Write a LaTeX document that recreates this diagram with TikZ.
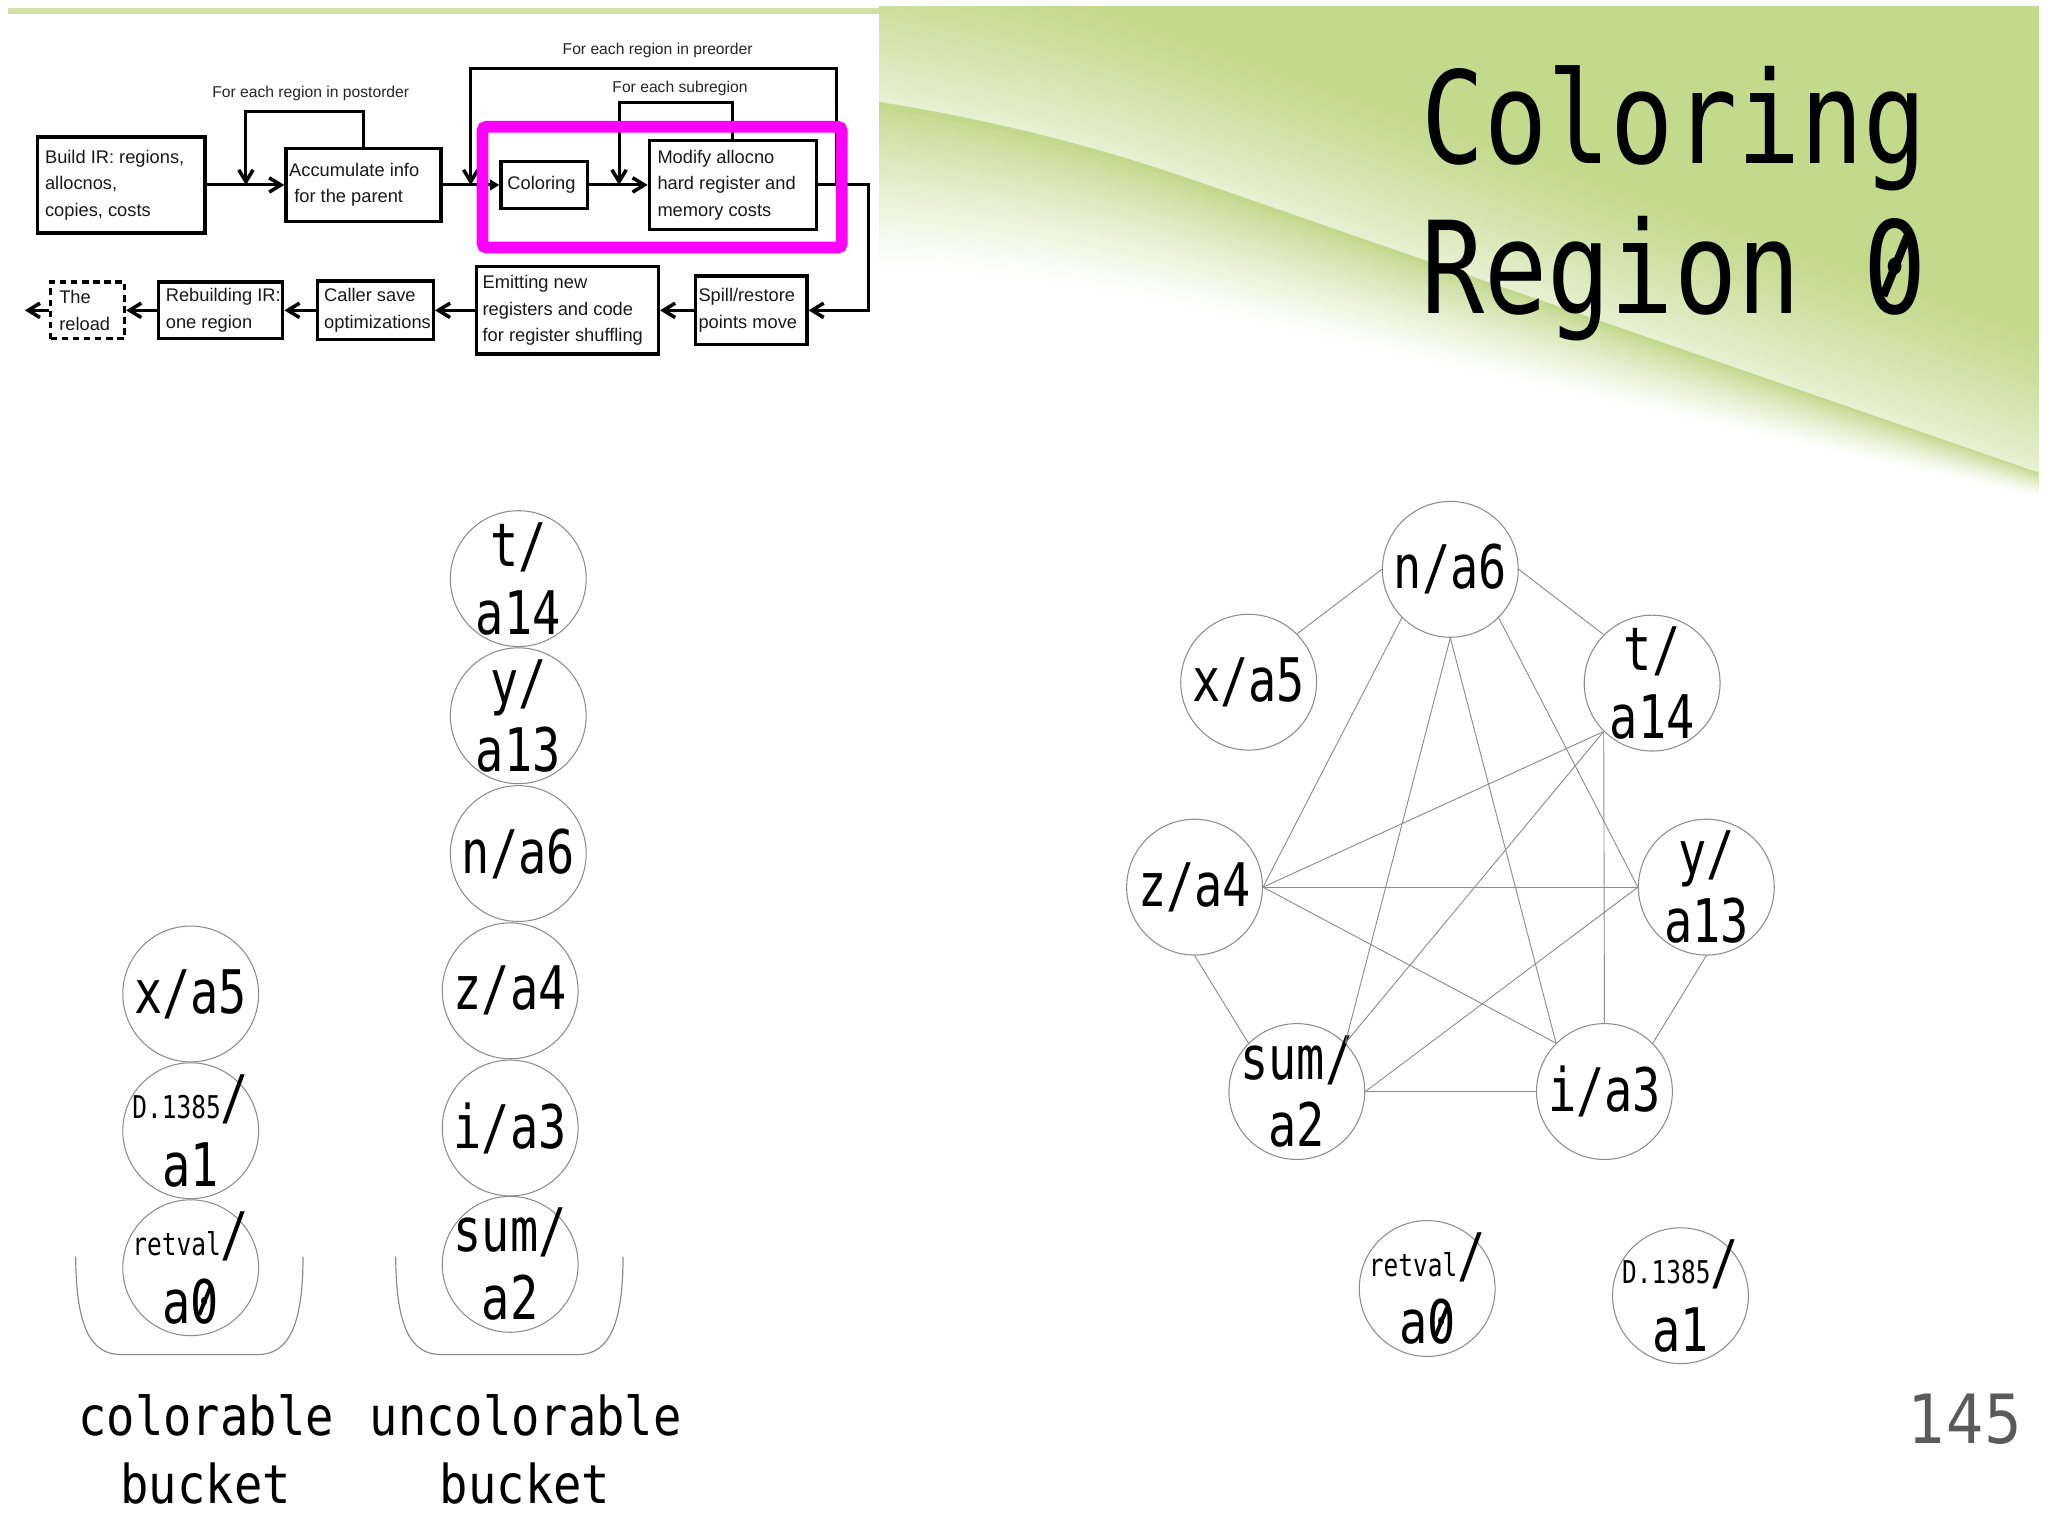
\documentclass[tikz,border=0pt]{standalone}
\usepackage{fontspec}
\usetikzlibrary{arrows.meta}
\newfontfamily\titlefont[FakeStretch=0.82]{DejaVu Sans Mono}
\newfontfamily\gnodefont[FakeStretch=0.78]{DejaVu Sans Mono}
\newfontfamily\bucketfont[FakeStretch=0.88]{DejaVu Sans Mono}
\newfontfamily\pagenofont[FakeStretch=0.87]{DejaVu Sans}
\newfontfamily\flowfont{Liberation Sans}
\definecolor{bggreen}{HTML}{C3D98B}
\definecolor{bandgreen}{HTML}{BFD685}
\definecolor{toplinegreen}{HTML}{D3E1A8}
\definecolor{edgegray}{HTML}{8C8C8C}
\definecolor{hilite}{HTML}{FF00FF}
\definecolor{pagegray}{HTML}{5A5A5A}
\newcommand\smalltag[1]{{\fontsize{24}{28}\selectfont #1}}
\newcommand\szero{\leavevmode\setbox0=\hbox{0}\rlap{0}\hbox to \wd0{\hss\raisebox{0.15em}{\rotatebox{-22}{\rule{0.065em}{0.5em}}}\hss}}
\begin{document}
\begin{tikzpicture}[x=1pt,y=-1pt,
  flowbox/.style={draw=black, line width=2.5pt, inner sep=0pt},
  flowtext/.style={font=\flowfont\fontsize{14}{20.3}\selectfont, align=left, inner sep=0pt, anchor=west, text=black!90},
  flowlabel/.style={font=\flowfont\fontsize{12}{14}\selectfont, inner sep=0pt, anchor=base, text=black!85},
  flowline/.style={line width=2.3pt},
  flowarrow/.style={line width=2.3pt, -{Straight Barb[length=9pt,width=11pt,line width=2.7pt]}},
  gnode/.style={circle, draw=edgegray, line width=0.8pt, minimum size=104pt, inner sep=0pt},
  gtext/.style={inner sep=0pt, align=center, font=\gnodefont\fontsize{46}{52}\selectfont},
  gedge/.style={draw=edgegray, line width=0.7pt},
  bucketline/.style={draw=edgegray, line width=0.9pt},
  bucketlab/.style={font=\bucketfont\fontsize{41}{52}\selectfont, inner sep=0pt, anchor=base},
  titlestyle/.style={font=\titlefont\fontsize{98}{114}\selectfont, inner sep=0pt, anchor=base west}
]
\useasboundingbox (0,0) rectangle (1568,1176);
\fill[white] (0,0) rectangle (1568,1176);

% ---------- background swoosh ----------
\begin{scope}
\clip (673,5) rectangle (1561,430);
\fill[bggreen] (673,0) -- (1561,0) -- (1561,362) -- (920,140) .. controls (840,112) and (760,92) .. (673,78) -- cycle;
\foreach \k in {0,...,21}{
  \pgfmathsetmacro\ua{-(\k+1)*5}
  \pgfmathsetmacro\ub{-\k*5+0.6}
  \pgfmathsetmacro\w{100-62*(1-(\k+0.5)/22)^1.2}
  \fill[bggreen!\w!white] (673,{78+\ua}) .. controls (760,{92+\ua}) and (840,{112+\ua}) .. (920,{140+\ua}) -- (1561,{362+\ua}) -- (1561,{362+\ub}) -- (920,{140+\ub}) .. controls (840,{112+\ub}) and (760,{92+\ub}) .. (673,{78+\ub}) -- cycle;
}
\foreach \k in {0,...,24}{
  \pgfmathsetmacro\ta{\k/25}
  \pgfmathsetmacro\tb{(\k+1)/25+0.006}
  \pgfmathsetmacro\w{100*(1-((\k+0.5)/25)^0.75)}
  \fill[bandgreen!\w!white] (673,{78+125*\ta}) .. controls (760,{92+115*\ta}) and (840,{112+105.6*\ta}) .. (920,{140+96.4*\ta}) -- (1561,{362+18*\ta}) -- (1561,{362+18*\tb}) -- (920,{140+96.4*\tb}) .. controls (840,{112+105.6*\tb}) and (760,{92+115*\tb}) .. (673,{78+125*\tb}) -- cycle;
}
\end{scope}
\fill[toplinegreen] (6,6) rectangle (673,10.5);

% ---------- title ----------
\node[titlestyle] (title1) at (1088,125.5) {Coloring};
\node[titlestyle] (title2) at (1088,240) {Region \szero};

% ---------- flowchart ----------
\node[flowbox, minimum width=128.5pt, minimum height=73.6pt] (build) at (92.75,141.6) {};
\node[flowtext] (buildtxt) at (34.3,141.6) {Build IR: regions,\\allocnos,\\copies, costs};
\node[flowbox, minimum width=118.8pt, minimum height=56.3pt] (acc) at (278.3,141.6) {};
\node[flowtext] (acctxt) at (221.2,141.6) {Accumulate info\\\hspace*{3.9pt}for the parent};
\node[flowbox, minimum width=66.3pt, minimum height=35.6pt] (col) at (416.65,141.6) {};
\node[flowtext] (coltxt) at (388.3,141.6) {Coloring};
\node[flowbox, minimum width=127.7pt, minimum height=68.2pt] (mod) at (561,141.6) {};
\node[flowtext] (modtxt) at (503.2,141.6) {Modify allocno\\hard register and\\memory costs};
\node[flowbox, minimum width=85.2pt, minimum height=52.5pt] (spill) at (575.2,237.6) {};
\node[flowtext] (spilltxt) at (534.6,237.6) {Spill/restore\\points move};
\node[flowbox, minimum width=139.2pt, minimum height=66.8pt] (emit) at (434.5,237.6) {};
\node[flowtext] (emittxt) at (369.3,237.6) {Emitting new\\registers and code\\for register shuffling};
\node[flowbox, minimum width=88.6pt, minimum height=44.8pt] (caller) at (287.5,237.6) {};
\node[flowtext] (callertxt) at (248,237.6) {Caller save\\optimizations};
\node[flowbox, minimum width=95.3pt, minimum height=43.4pt] (rebuild) at (168.85,237.6) {};
\node[flowtext] (rebuildtxt) at (126.8,237.6) {Rebuilding IR:\\one region};
\node[flowbox, dash pattern=on 5pt off 3.5pt, minimum width=56.6pt, minimum height=43.4pt] (reload) at (67,237.6) {};
\node[flowtext] (reloadtxt) at (45.2,237.6) {The\\reload};

\node[flowlabel] (lpost) at (237.9,74.5) {For each region in postorder};
\node[flowlabel] (lpre) at (503.5,41.6) {For each region in preorder};
\node[flowlabel] (lsub) at (520.6,71) {For each subregion};

\coordinate (posttop) at (188.3,85);
\coordinate (postjoin) at (188.3,141.6);
\coordinate (preright) at (640.1,141.6);
\coordinate (pretop) at (360.4,52.3);
\coordinate (prejoin) at (360.4,141.6);
\coordinate (subtop) at (474,78.6);
\coordinate (subjoin) at (474,141.6);
\coordinate (rturn) at (664.8,141.6);
\coordinate (exitpt) at (19,237.6);

\draw[flowarrow] (build.east) -- (acc.west);
\draw[flowarrow] (acc.north) |- (posttop) -- (postjoin);
\draw[flowline, -{Triangle[length=7pt,width=8pt]}] (acc.east) -- (col.west);
\draw[flowarrow] (preright) |- (pretop) -- (prejoin);
\draw[flowarrow] (col.east) -- (mod.west);
\draw[flowarrow] (mod.north) |- (subtop) -- (subjoin);
\draw[flowarrow] (mod.east) -- (rturn) |- (spill.east);
\draw[flowarrow] (spill.west) -- (emit.east);
\draw[flowarrow] (emit.west) -- (caller.east);
\draw[flowarrow] (caller.west) -- (rebuild.east);
\draw[flowarrow] (rebuild.west) -- (reload.east);
\draw[flowarrow] (reload.west) -- (exitpt);

\draw[hilite, line width=9pt, rounded corners=3pt] (369.5,97) rectangle (644.4,189.5);

% ---------- buckets ----------
\node[gnode] (bx) at (146,761) {};
\node[gtext] (bxtxt) at (bx.center) {x/a5};
\node[gnode] (bd) at (146,865.7) {};
\node[gtext] (bdtxt) at (bd.center) {\smalltag{D.1385}/\\a1};
\node[gnode] (br) at (146,970.6) {};
\node[gtext] (brtxt) at (br.center) {\smalltag{retval}/\\a\szero};
\node[gnode] (bt) at (396.8,443) {};
\node[gtext] (bttxt) at (bt.center) {t/\\a14};
\node[gnode] (by) at (396.8,548) {};
\node[gtext] (bytxt) at (by.center) {y/\\a13};
\node[gnode] (bn) at (396.8,653.5) {};
\node[gtext] (bntxt) at (bn.center) {n/a6};
\node[gnode] (bz) at (390.6,758.6) {};
\node[gtext] (bztxt) at (bz.center) {z/a4};
\node[gnode] (bi) at (390.6,863.6) {};
\node[gtext] (bitxt) at (bi.center) {i/a3};
\node[gnode] (bs) at (390.6,968) {};
\node[gtext] (bstxt) at (bs.center) {sum/\\a2};

\draw[bucketline] (58,962) .. controls (58,1012) and (68,1037) .. (92,1037) -- (198,1037) .. controls (222,1037) and (232,1012) .. (232,962);
\draw[bucketline] (303,962) .. controls (303,1012) and (313,1037) .. (337,1037) -- (443,1037) .. controls (467,1037) and (477,1012) .. (477,962);

\node[bucketlab] (lab1a) at (157.8,1099) {colorable};
\node[bucketlab] (lab1b) at (157.5,1151) {bucket};
\node[bucketlab] (lab2a) at (402.5,1099) {uncolorable};
\node[bucketlab] (lab2b) at (402,1151) {bucket};

% ---------- interference graph ----------
\node[gnode] (gn) at (1110.4,435.9) {};
\node[gtext] (gntxt) at (gn.center) {n/a6};
\node[gnode] (gx) at (956,522.3) {};
\node[gtext] (gxtxt) at (gx.center) {x/a5};
\node[gnode] (gt) at (1264.9,523) {};
\node[gtext] (gttxt) at (gt.center) {t/\\a14};
\node[gnode] (gz) at (914.6,679.2) {};
\node[gtext] (gztxt) at (gz.center) {z/a4};
\node[gnode] (gy) at (1306.4,679.2) {};
\node[gtext] (gytxt) at (gy.center) {y/\\a13};
\node[gnode] (gs) at (992.9,835.7) {};
\node[gtext] (gstxt) at (gs.center) {sum/\\a2};
\node[gnode] (gi) at (1228.4,835.7) {};
\node[gtext] (gitxt) at (gi.center) {i/a3};
\node[gnode] (gr) at (1092.7,986.5) {};
\node[gtext] (grtxt) at (gr.center) {\smalltag{retval}/\\a\szero};
\node[gnode] (gd) at (1286.6,992) {};
\node[gtext] (gdtxt) at (gd.center) {\smalltag{D.1385}/\\a1};

\draw[gedge] (gn.west) -- (gx.north east);
\draw[gedge] (gn.east) -- (gt.north west);
\draw[gedge] (gn.south west) -- (gz.east);
\draw[gedge] (gn.south) -- (gs.north east);
\draw[gedge] (gn.south) -- (gi.north west);
\draw[gedge] (gn.south east) -- (gy.west);
\draw[gedge] (gt.south west) -- (gz.east);
\draw[gedge] (gt.south west) -- (gs.north east);
\draw[gedge] (gt.south west) -- (gi.north);
\draw[gedge] (gz.east) -- (gy.west);
\draw[gedge] (gz.east) -- (gi.north west);
\draw[gedge] (gz.south) -- (gs.north west);
\draw[gedge] (gy.west) -- (gs.east);
\draw[gedge] (gy.south) -- (gi.north east);
\draw[gedge] (gs.east) -- (gi.west);

% ---------- page number ----------
\node[anchor=base east, inner sep=0pt, text=pagegray, font=\pagenofont\fontsize{52}{60}\selectfont] (pageno) at (1548,1105) {145};
\end{tikzpicture}
\end{document}
